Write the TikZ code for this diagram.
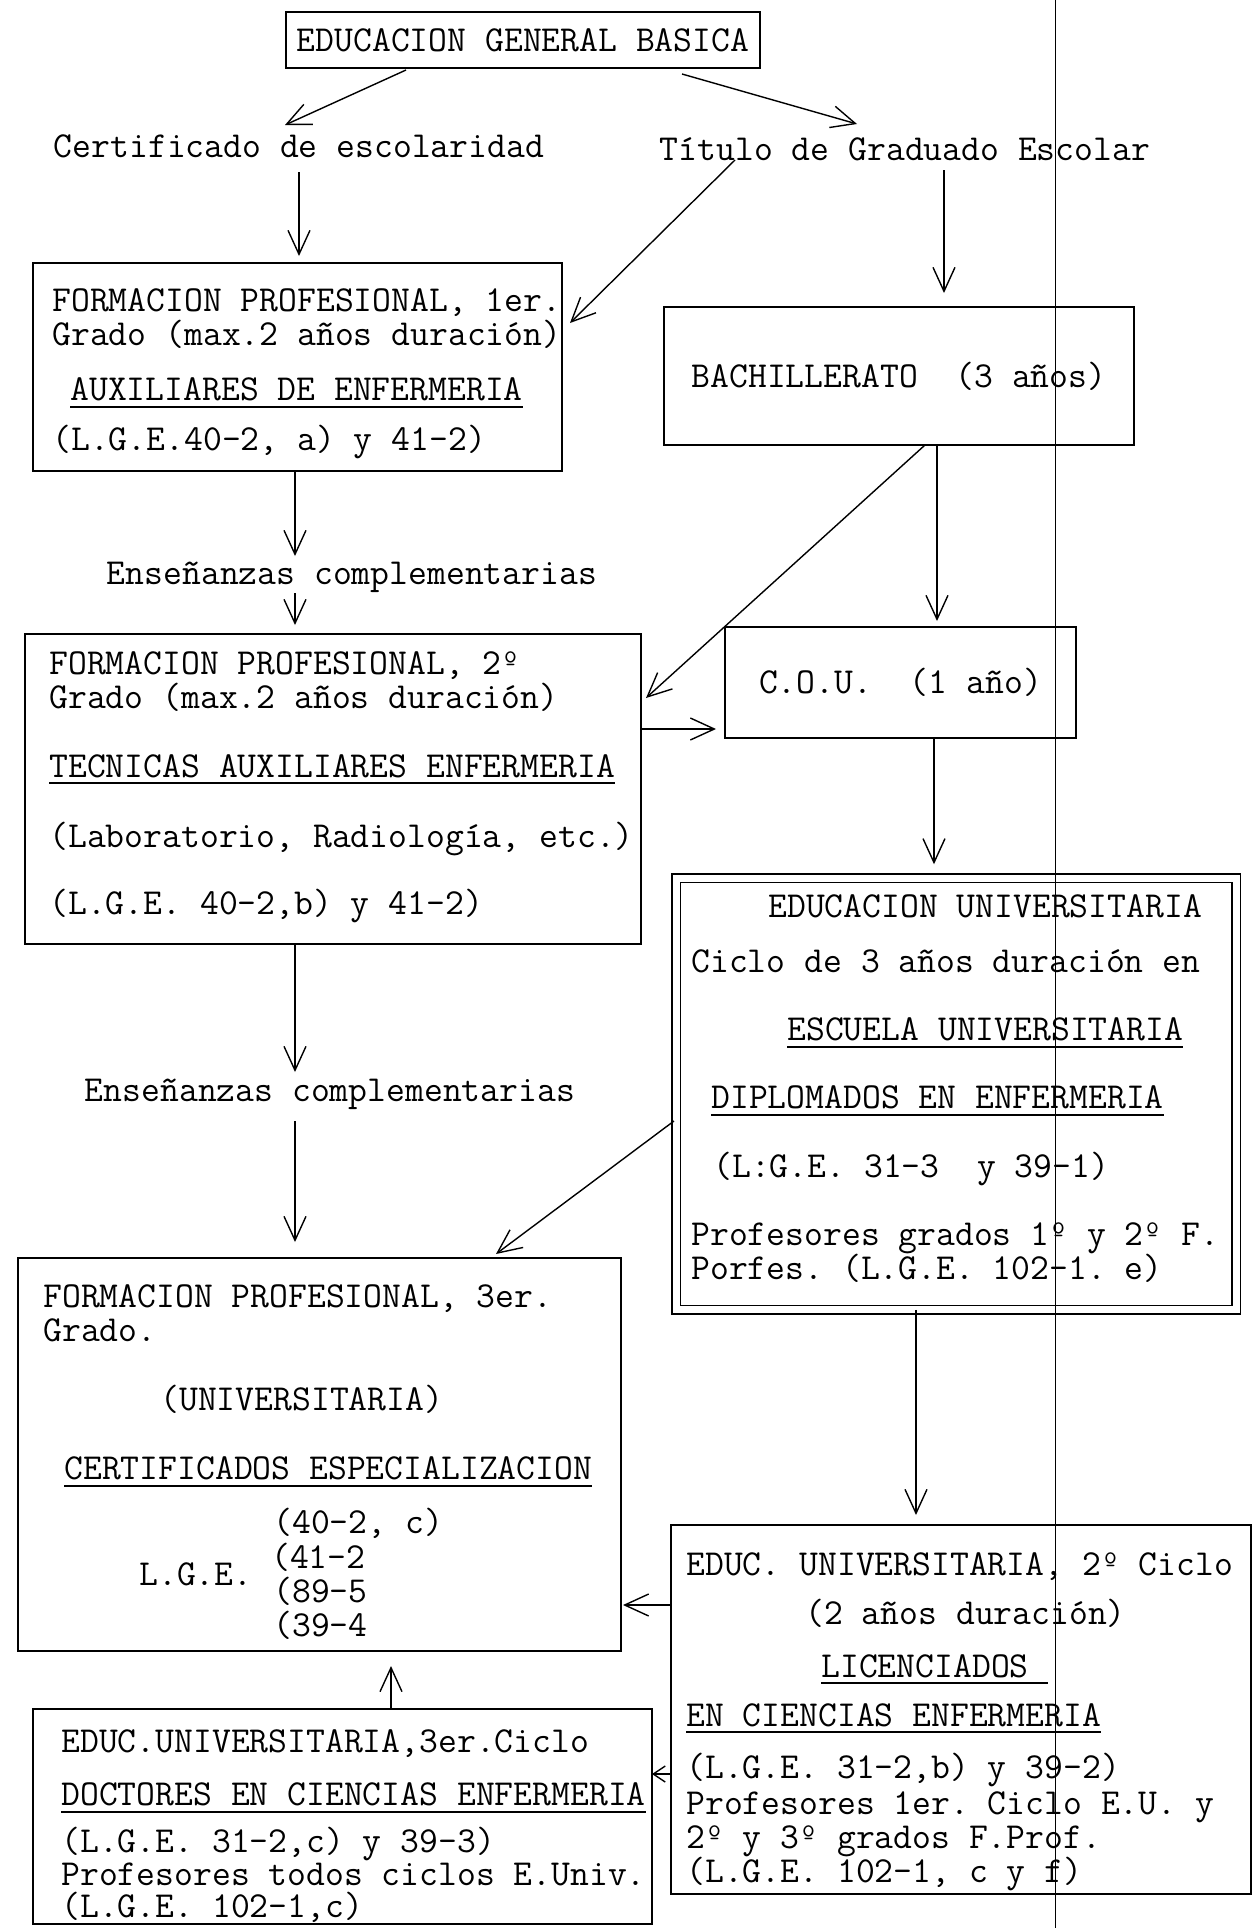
\documentclass[tikz,border=0pt]{standalone}
\usepackage{tikz}
\usetikzlibrary{positioning}
\usetikzlibrary{arrows.meta}
\newcommand{\typed}{\ttfamily\fontsize{18.3pt}{17pt}\selectfont\frenchspacing\lineskiplimit=-20pt}
\newcommand{\underscored}[1]{\setbox0\hbox{#1}\rlap{\rule[-3.5pt]{\wd0}{1pt}}\box0}
\tikzstyle{stage} = [rectangle, 
draw=black, 
line width=1pt, 
inner sep=0pt, 
outer sep=0pt, 
font=\typed]
\tikzstyle{stagetext} = [align=left, 
inner sep=0pt, 
font=\typed]
\tikzstyle{caption} = [inner sep=2pt, font=\typed]
\tikzstyle{arrow} = [line width=0.7pt,-{Straight Barb[length=12pt,width=11pt]}]
\tikzstyle{shortarrow} = [line width=0.7pt,-{Straight Barb[length=6pt,width=8pt]}]

\begin{document}
\begin{tikzpicture} [x=0.5pt, y=-0.5pt, node distance=50pt]
    \useasboundingbox (0,0) rectangle (1253,1928);
    \node (egb) [stage, minimum width=237pt, minimum height=28pt] at (523,40) {EDUCACION GENERAL BASICA};
    \node (cert) [caption, below of=egb, xshift=-112pt, yshift=-3pt] {Certificado de escolaridad};
    \node (titulo) [caption, right of=cert, xshift=253pt, yshift=-1.5pt] {Título de Graduado Escolar};
    \node (fp1) [stage, below of=cert, xshift=-0.75pt, yshift=-60.5pt, minimum width=264.5pt, minimum height=104pt] {};
    \node (bach) [stage, below of=titulo, xshift=-3pt, yshift=-63.5pt, minimum width=235pt, minimum height=69pt] {BACHILLERATO~~(3 años)};
    \node (ens1) [caption, below of=fp1, xshift=27.25pt, yshift=-55pt] {Enseñanzas complementarias};
    \node (fp2) [stage, below of=ens1, xshift=-9.5pt, yshift=-56pt, minimum width=308pt, minimum height=155pt] {};
    \node (cou) [stage, below of=bach, xshift=0.75pt, yshift=-103.25pt, minimum width=175.5pt, minimum height=55.5pt] {C.O.U.~~(1 año)};
    \node (eu) [stage, double, line width=0.8pt, double distance=3.5pt, below of=cou, xshift=27.75pt, yshift=-155.75pt, minimum width=280pt, minimum height=215.75pt] {};
    \node (ens2) [caption, below of=fp2, xshift=-1.5pt, yshift=-102.5pt] {Enseñanzas complementarias};
    \node (fp3) [stage, below of=ens2, xshift=-5.25pt, yshift=-130.25pt, minimum width=301.5pt, minimum height=196.5pt] {};
    \node (eu2) [stage, below of=eu, xshift=2.5pt, yshift=-257.75pt, minimum width=290pt, minimum height=184.5pt] {};
    \node (eu3) [stage, below of=fp3, xshift=11.5pt, yshift=-131pt, minimum width=309.5pt, minimum height=107.5pt] {};

    % texts in the boxes
    \node (fp1txt) [stagetext, right=9.5pt of fp1.west, yshift=-3.5pt] {FORMACION PROFESIONAL, 1er.\\
        Grado (max.2 años duración)\\[10.5pt]
        \hspace*{9pt}\underscored{AUXILIARES DE ENFERMERIA}\\[8pt]
        (L.G.E.40-2, a) y 41-2)};
    \node (fp2txt) [stagetext, right=12pt of fp2.west, yshift=1pt] {FORMACION PROFESIONAL, 2º\\
        Grado (max.2 años duración)\\[17.5pt]
        \underscored{TECNICAS AUXILIARES ENFERMERIA}\\[18pt]
        (Laboratorio, Radiología, etc.)\\[16.5pt]
        (L.G.E. 40-2,b) y 41-2)};
    \node (eutxt) [stagetext, right=7.5pt of eu.west, yshift=2.5pt] {\hspace*{38.5pt}EDUCACION UNIVERSITARIA\\[10.5pt]
        Ciclo de 3 años duración en\\[17pt]
        \hspace*{48pt}\underscored{ESCUELA UNIVERSITARIA}\\[17pt]
        \hspace*{10pt}\underscored{DIPLOMADOS EN ENFERMERIA}\\[17.5pt]
        \hspace*{11pt}(L:G.E. 31-3~~y 39-1)\\[17pt]
        Profesores grados 1º y 2º F.\\
        Porfes. (L.G.E. 102-1. e)};
    \node (fp3txt) [stagetext, right=12.5pt of fp3.west, yshift=-3.8pt] {FORMACION PROFESIONAL, 3er.\\
        Grado.\\[17.5pt]
        \hspace*{58.5pt}(UNIVERSITARIA)\\[17.5pt]
        \hspace*{10.5pt}\underscored{CERTIFICADOS ESPECIALIZACION}\\[10pt]
        \hspace*{115pt}(40-2, c)\\[0.5pt]
        \hspace*{48pt}\raisebox{-8.5pt}[0pt][0pt]{L.G.E.}\hspace*{9.4pt}(41-2\\
        \hspace*{115pt}(89-5\\
        \hspace*{115pt}(39-4};
    \node (eu2txt) [stagetext, right=7.5pt of eu2.west, yshift=-6pt] {EDUC. UNIVERSITARIA, 2º Ciclo\\[7.5pt]
        \hspace*{59.5pt}(2 años duración)\\[9.5pt]
        \hspace*{67.5pt}\underscored{LICENCIADOS\ }\\[7.5pt]
        \underscored{EN CIENCIAS ENFERMERIA}\\[9pt]
        (L.G.E. 31-2,b) y 39-2)\\[1pt]
        Profesores 1er. Ciclo E.U. y\\
        2º y 3º grados F.Prof.\\
        (L.G.E. 102-1, c y f)};
    \node (eu3txt) [stagetext, right=14pt of eu3.west, yshift=-5pt] {EDUC.UNIVERSITARIA,3er.Ciclo\\[9.5pt]
        \underscored{DOCTORES EN CIENCIAS ENFERMERIA}\\[6.5pt]
        (L.G.E. 31-2,c) y 39-3)\\[-0.5pt]
        Profesores todos ciclos E.Univ.\\[-1pt]
        (L.G.E. 102-1,c)};

    \draw [arrow] ([xshift=-58.5pt,yshift=-1pt]egb.south) -- ([xshift=-7pt,yshift=10.5pt]cert.center);
    \draw [arrow] ([xshift=79.5pt,yshift=-3pt]egb.south) -- ([xshift=-24pt,yshift=12.5pt]titulo.center);
    \draw [arrow] ([yshift=-13pt]cert.center) -- ([xshift=0.75pt,yshift=3.5pt]fp1.north);
    \draw [arrow] ([xshift=-85pt,yshift=-5.5pt]titulo.center) -- ([xshift=4pt,yshift=22pt]fp1.east);
    \draw [arrow] ([xshift=19.5pt,yshift=-10.5pt]titulo.center) -- ([xshift=22.5pt,yshift=7pt]bach.north);
    \draw [arrow] ([xshift=-1.25pt]fp1.south) -- ([xshift=-28.5pt,yshift=10.5pt]ens1.center);
    \draw [arrow] ([xshift=-28.5pt,yshift=-8pt]ens1.center) -- ([xshift=-19pt,yshift=4.5pt]fp2.north);
    \draw [arrow] ([xshift=13pt]bach.south) -- ([xshift=2.5pt,yshift=45.5pt]fp2.east);
    \draw [arrow] ([xshift=19pt]bach.south) -- ([xshift=18.25pt,yshift=3pt]cou.north);
    \draw [arrow] ([yshift=30pt]fp2.east) -- ([xshift=-4.5pt,yshift=-23.25pt]cou.west);
    \draw [arrow] ([xshift=16.75pt]cou.south) -- ([xshift=-11pt,yshift=7pt]eu.north);
    \draw [arrow] ([xshift=-19pt]fp2.south) -- ([xshift=-17.5pt,yshift=11pt]ens2.center);
    \draw [arrow] ([xshift=-17.5pt,yshift=-13.5pt]ens2.center) -- ([xshift=-12.25pt,yshift=8pt]fp3.north);
    \draw [arrow] ([xshift=-1pt,yshift=-13.5pt]eu.west) -- ([xshift=88.25pt,yshift=2pt]fp3.north);
    \draw [arrow] ([xshift=-20pt]eu.south) -- ([xshift=-22.5pt,yshift=5pt]eu2.north);
    \draw [arrow] ([yshift=52.25pt]eu2.west) -- ([xshift=1pt,yshift=-75.25pt]fp3.east);
    \draw [shortarrow] ([yshift=-32.25pt]eu2.west) -- ([yshift=21.25pt]eu3.east);
    \draw [arrow] ([xshift=24.25pt]eu3.north) -- ([xshift=35.75pt,yshift=-7.5pt]fp3.south);

    % fold line of the page
    \draw [line width=0.5pt] (1055,0) -- (1055,1928);
\end{tikzpicture}
\end{document}
